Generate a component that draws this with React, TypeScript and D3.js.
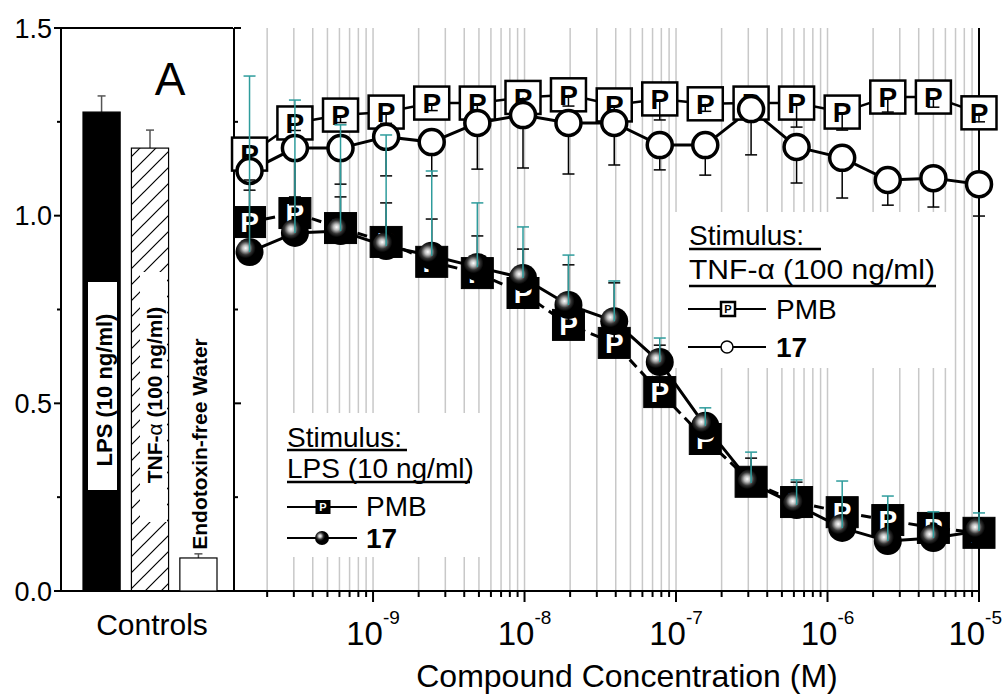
import React from "react";
import * as d3 from "d3";

// concentrations (M), two-fold dilution series
const conc = [1.53e-10, 3.05e-10, 6.1e-10, 1.22e-9, 2.44e-9, 4.88e-9, 9.77e-9, 1.95e-8, 3.91e-8,
  7.81e-8, 1.56e-7, 3.13e-7, 6.25e-7, 1.25e-6, 2.5e-6, 5e-6, 1e-5];

// stimulus TNF-alpha
const tnfPmb = [1.164, 1.247, 1.268, 1.276, 1.300, 1.300, 1.315, 1.322, 1.295, 1.311, 1.298, 1.300, 1.300, 1.276, 1.316, 1.316, 1.274];
const tnfPmbErr = [0.03, 0.02, 0.02, 0.03, 0.02, 0.03, 0.045, 0.03, 0.02, 0.056, 0.02, 0.025, 0.064, 0.048, 0.04, 0.027, 0.024];
const tnf17 = [1.119, 1.180, 1.180, 1.210, 1.196, 1.247, 1.268, 1.247, 1.247, 1.188, 1.188, 1.284, 1.183, 1.154, 1.095, 1.100, 1.084];
const tnf17Err = [0.051, 0.130, 0.096, 0.104, 0.090, 0.123, 0.141, 0.136, 0.112, 0.066, 0.080, 0.122, 0.096, 0.107, 0.067, 0.077, 0.085];

// stimulus LPS
const lpsPmb = [0.983, 1.007, 0.967, 0.930, 0.877, 0.847, 0.794, 0.709, 0.661, 0.530, 0.405, 0.291, 0.237, 0.210, 0.189, 0.168, 0.155];
const lpsPmbErr = [0.112, 0.022, 0.083, 0.104, 0.114, 0.099, 0.117, 0.160, 0.160, 0.125, 0.064, 0.063, 0.053, 0.032, 0.027, 0.027, 0.021];
const lps17 = [0.903, 0.954, 0.959, 0.919, 0.893, 0.863, 0.834, 0.762, 0.719, 0.610, 0.440, 0.288, 0.229, 0.168, 0.133, 0.141, 0.160];
const lps17Err = [0.469, 0.354, 0.283, 0.296, 0.226, 0.171, 0.136, 0.133, 0.107, 0.064, 0.048, 0.082, 0.067, 0.125, 0.120, 0.070, 0.048];

// controls panel
const controls = ["LPS (10 ng/ml)", "TNF-α (100 ng/ml)", "Endotoxin-free Water"];
const controlVals = [1.276, 1.180, 0.088];
const controlErr = [0.043, 0.048, 0.011];

const yTicks = [0, 0.5, 1.0, 1.5];
const yMinor = [0.25, 0.75, 1.25];
const xMajor = [1e-9, 1e-8, 1e-7, 1e-6, 1e-5];

const FONT = "'Liberation Sans', Arial, sans-serif";
const TEAL = "#2e9c9c";

const x = d3.scaleLog().domain([1.19e-10, 1e-5]).range([233, 979]);
const y = d3.scaleLinear().domain([0, 1.5]).range([591, 28]);
const band = d3.scaleBand().domain(controls).range([83, 217]).paddingInner(0.233).paddingOuter(0);

const line = d3.line<number>().x((d, i) => x(conc[i])).y((d) => y(d));

function ErrBars({ vals, errs, dir, color, w }: any) {
  return (
    <g stroke={color} strokeWidth={w}>
      {vals.map((v: number, i: number) => {
        const cx = x(conc[i]);
        const end = y(v + dir * errs[i]);
        return (
          <g key={i}>
            <line x1={cx} x2={cx} y1={y(v)} y2={end} />
            <line x1={cx - 6} x2={cx + 6} y1={end} y2={end} />
          </g>
        );
      })}
    </g>
  );
}

function PSquare({ cx, cy, w, h, filled, fs }: any) {
  return (
    <g>
      <rect x={cx - w / 2} y={cy - h / 2} width={w} height={h}
        fill={filled ? "#000" : "#fff"} stroke="#000" strokeWidth={filled ? 1 : 2.5} />
      <text x={cx} y={cy + fs * 0.36} textAnchor="middle" fontFamily={FONT} fontWeight="bold"
        fontSize={fs} fill={filled ? "#fff" : "#000"}>P</text>
    </g>
  );
}

export default function App() {
  const ticks = x.ticks();
  const fmt = d3.format(".1f");
  const exp = (v: number) => Math.round(Math.log10(v));

  return (
    <svg width={1005} height={694} style={{ position: "absolute", left: 0, top: 0, background: "#fff" }}>
      <defs>
        <pattern id="hatch" patternUnits="userSpaceOnUse" width={16} height={16}>
          <path d="M-4,4 L4,-4 M0,16 L16,0 M12,20 L20,12" stroke="#000" strokeWidth={1.2} />
        </pattern>
        <radialGradient id="ball" cx="0.36" cy="0.36" r="0.6">
          <stop offset="0" stopColor="#fff" />
          <stop offset="0.18" stopColor="#bbb" />
          <stop offset="0.4" stopColor="#333" />
          <stop offset="0.6" stopColor="#000" />
        </radialGradient>
      </defs>

      {/* grid */}
      <g stroke="#c8c8c8" strokeWidth={1.5}>
        {ticks.map((t, i) => (
          <line key={i} x1={x(t)} x2={x(t)} y1={28} y2={591} />
        ))}
      </g>

      {/* legend backgrounds */}
      <rect x={672} y={212} width={278} height={156} fill="#fff" />
      <rect x={293} y={413} width={195} height={144} fill="#fff" />

      {/* frames and axes */}
      <g stroke="#000" strokeWidth={2} fill="none">
        <line x1={61} x2={233} y1={28} y2={28} />
        <line x1={61} x2={61} y1={28} y2={592} />
        <line x1={234} x2={234} y1={28} y2={592} />
        <line x1={979} x2={979} y1={28} y2={592} />
        <line x1={60} x2={980} y1={591} y2={591} />
        {yTicks.map((t) => (
          <g key={t}>
            <line x1={54} x2={61} y1={y(t)} y2={y(t)} />
            <line x1={234} x2={241} y1={y(t)} y2={y(t)} />
          </g>
        ))}
        {yMinor.map((t) => (
          <g key={t}>
            <line x1={57} x2={61} y1={y(t)} y2={y(t)} />
            <line x1={234} x2={238} y1={y(t)} y2={y(t)} />
          </g>
        ))}
        {ticks.map((t, i) => (
          <line key={i} x1={x(t)} x2={x(t)} y1={591}
            y2={xMajor.some((m) => Math.abs(m - t) / m < 1e-6) ? 602 : 597} />
        ))}
      </g>

      {/* y tick labels */}
      {yTicks.map((t) => (
        <text key={t} x={52} y={y(t) + 9.5} textAnchor="end" fontFamily={FONT} fontSize={27}>{fmt(t)}</text>
      ))}

      {/* x tick labels; the last one is kept inside the page */}
      {xMajor.map((t, i) => {
        const last = i === xMajor.length - 1;
        return (
          <text key={t} x={last ? 1002 : x(t)} y={645} textAnchor={last ? "end" : "middle"}
            fontFamily={FONT} fontSize={33}>
            10<tspan dy={-21} fontSize={19}>{exp(t)}</tspan>
          </text>
        );
      })}
      <text x={627} y={687} textAnchor="middle" fontFamily={FONT} fontSize={32}>Compound Concentration (M)</text>

      {/* controls panel */}
      <text x={170} y={95} textAnchor="middle" fontFamily={FONT} fontSize={46}>A</text>
      {controls.map((c, i) => {
        const bx = band(c) as number;
        const bw = band.bandwidth();
        const cx = bx + bw / 2;
        const top = y(controlVals[i]);
        const capY = y(controlVals[i] + controlErr[i]);
        const fill = i === 0 ? "#000" : i === 1 ? "url(#hatch)" : "#fff";
        return (
          <g key={c}>
            <line x1={cx} x2={cx} y1={top} y2={capY} stroke="#555" strokeWidth={1.5} />
            <line x1={cx - 4} x2={cx + 4} y1={capY} y2={capY} stroke="#555" strokeWidth={1.5} />
            <rect x={bx} y={top} width={bw} height={591 - top} fill={fill} stroke="#000" strokeWidth={1.2} />
          </g>
        );
      })}
      <rect x={88} y={282} width={29} height={208} fill="#fff" />
      <rect x={140} y={272} width={27} height={250} fill="#fff" />
      <text transform="translate(104,390) rotate(-90)" textAnchor="middle" dominantBaseline="central"
        fontFamily={FONT} fontWeight="bold" fontSize={22}>{controls[0]}</text>
      <text transform="translate(154,395) rotate(-90)" textAnchor="middle" dominantBaseline="central"
        fontFamily={FONT} fontWeight="bold" fontSize={21}>
        TNF-<tspan fontWeight="normal">α</tspan> (100 ng/ml)
      </text>
      <text transform="translate(199,444) rotate(-90)" textAnchor="middle" dominantBaseline="central"
        fontFamily={FONT} fontWeight="bold" fontSize={21}>{controls[2]}</text>
      <text x={152} y={635} textAnchor="middle" fontFamily={FONT} fontSize={30}>Controls</text>

      {/* series lines */}
      <g fill="none" stroke="#000">
        <path d={line(tnfPmb) || ""} strokeWidth={2.5} />
        <path d={line(tnf17) || ""} strokeWidth={3} />
        <path d={line(lpsPmb) || ""} strokeWidth={3} strokeDasharray="10,6" />
        <path d={line(lps17) || ""} strokeWidth={3} />
      </g>

      {/* TNF series */}
      {tnfPmb.map((v, i) => (
        <PSquare key={i} cx={x(conc[i])} cy={y(v)} w={35} h={33} fs={28} />
      ))}
      <ErrBars vals={tnfPmb} errs={tnfPmbErr} dir={-1} color="#000" w={1.5} />
      <ErrBars vals={tnf17} errs={tnf17Err} dir={-1} color="#000" w={1.5} />
      {tnf17.map((v, i) => (
        <circle key={i} cx={x(conc[i])} cy={y(v)} r={12.5} fill="#fff" stroke="#000" strokeWidth={3.5} />
      ))}

      {/* LPS series */}
      {lpsPmb.map((v, i) => (
        <PSquare key={i} cx={x(conc[i])} cy={y(v)} w={32} h={31} fs={28} filled />
      ))}
      <ErrBars vals={lpsPmb} errs={lpsPmbErr} dir={1} color="#000" w={1.5} />
      {lps17.map((v, i) => (
        <circle key={i} cx={x(conc[i])} cy={y(v)} r={14} fill="url(#ball)" />
      ))}
      <ErrBars vals={lps17} errs={lps17Err} dir={1} color={TEAL} w={1.5} />

      {/* TNF legend */}
      <g fontFamily={FONT} fontSize={28}>
        <text x={689} y={245}>Stimulus:</text>
        <line x1={689} x2={821} y1={249} y2={249} stroke="#000" strokeWidth={2.5} />
        <text x={689} y={279} textLength={246} lengthAdjust="spacingAndGlyphs">TNF-α (100 ng/ml)</text>
        <line x1={689} x2={936} y1={286} y2={286} stroke="#000" strokeWidth={2.5} />
        <line x1={688} x2={766} y1={309} y2={309} stroke="#000" strokeWidth={2} />
        <PSquare cx={728} cy={309} w={14} h={14} fs={11} />
        <text x={776} y={319}>PMB</text>
        <line x1={688} x2={766} y1={347} y2={347} stroke="#000" strokeWidth={2} />
        <circle cx={727} cy={347} r={6} fill="#fff" stroke="#000" strokeWidth={1.5} />
        <text x={776} y={357} fontWeight="bold">17</text>
      </g>

      {/* LPS legend */}
      <g fontFamily={FONT} fontSize={28}>
        <text x={287} y={447}>Stimulus:</text>
        <line x1={287} x2={407} y1={450} y2={450} stroke="#000" strokeWidth={2.5} />
        <text x={287} y={478}>LPS (10 ng/ml)</text>
        <line x1={287} x2={470} y1={482} y2={482} stroke="#000" strokeWidth={2.5} />
        <line x1={287} x2={357} y1={507} y2={507} stroke="#000" strokeWidth={2} />
        <PSquare cx={323} cy={507} w={14} h={13} fs={11} filled />
        <text x={366} y={516}>PMB</text>
        <line x1={287} x2={357} y1={538} y2={538} stroke="#000" strokeWidth={2} />
        <circle cx={322} cy={538} r={7} fill="url(#ball)" />
        <text x={366} y={548} fontWeight="bold">17</text>
      </g>
    </svg>
  );
}
